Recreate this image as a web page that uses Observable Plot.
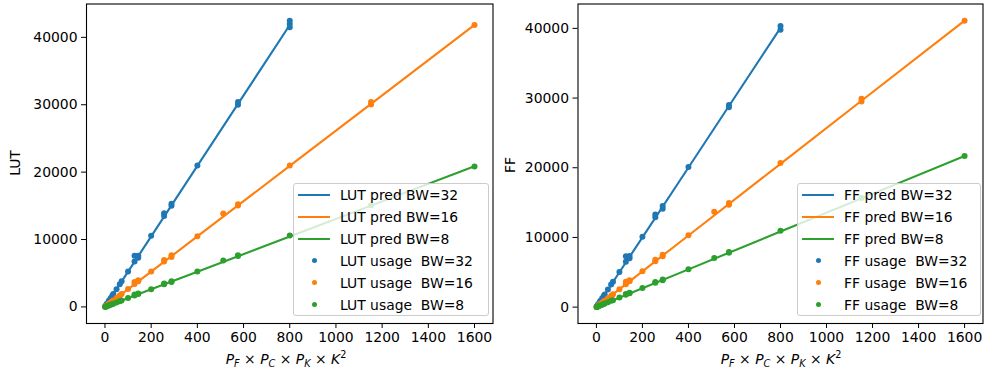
<!DOCTYPE html>
<html>
<head>
<meta charset="utf-8">
<script src="https://cdn.jsdelivr.net/npm/d3@7"></script>
<script src="https://cdn.jsdelivr.net/npm/@observablehq/plot@0.6"></script>
<style>
  html, body { margin: 0; padding: 0; background: #fff; }
  #fig { position: relative; width: 986px; height: 376px; font-family: "DejaVu Sans", sans-serif; color: #000; }
  #fig svg { position: absolute; top: 0; overflow: visible; }
  .ylab { position: absolute; font-size: 13.9px; transform: translate(-50%, -50%) rotate(-90deg); white-space: nowrap; }
  .xlab { position: absolute; font-size: 13.9px; transform: translateX(-50%); white-space: nowrap; }
  .xlab i { font-style: italic; }
  .xlab sub { font-size: 9.7px; vertical-align: -3px; font-style: italic; }
  .xlab sup { font-size: 9.7px; vertical-align: 6px; }
  .legend { position: absolute; border: 1px solid #cccccc; border-radius: 3px; background: rgba(255,255,255,0.8); box-sizing: border-box; font-size: 13.9px; }
  .legend .row { position: absolute; left: 0; height: 22px; line-height: 22px; white-space: pre; }
  .legend .row .txt { position: absolute; left: 46px; top: -11px; }
  .legend .row .ln { position: absolute; left: 4px; top: -1px; width: 32px; height: 2px; }
  .legend .row .mk { position: absolute; left: 18px; top: -2.5px; width: 5px; height: 5px; border-radius: 50%; }
</style>
</head>
<body>
<div id="fig"></div>
<script>
// Colours for the three bit widths
const colors = { 32: "#1f77b4", 16: "#ff7f0e", 8: "#2ca02c" };
const bitWidths = [32, 16, 8];

// x = P_F × P_C × P_K × K²
const xTicks = [0, 200, 400, 600, 800, 1000, 1200, 1400, 1600];
const yTicks = [0, 10000, 20000, 30000, 40000];

// ---- LUT: measured usage [x, LUT] ----
const lutUsage32 = [[1, 60], [2, 110], [4, 210], [8, 420], [9, 480], [16, 840], [18, 950], [25, 1320], [32, 1680],
  [36, 1900], [50, 2620], [64, 3350], [72, 3800], [100, 5250], [128, 6750], [128, 7600], [144, 7600], [144, 7300],
  [200, 10550], [256, 13500], [256, 13900], [288, 15000], [288, 15300], [400, 21000], [576, 30000], [576, 30400],
  [800, 41500], [800, 42000], [800, 42450]];
const lutUsage16 = [[1, 30], [2, 55], [4, 105], [8, 210], [9, 240], [16, 420], [18, 480], [25, 660], [32, 840],
  [36, 950], [50, 1320], [64, 1700], [72, 1900], [100, 2650], [128, 3400], [128, 3700], [144, 3800], [144, 3950],
  [200, 5250], [256, 6750], [256, 6950], [288, 7400], [288, 7650], [400, 10500], [512, 13850], [576, 15050],
  [576, 15250], [800, 21000], [1152, 30050], [1152, 30400], [1600, 41850]];
const lutUsage8 = [[1, 15], [2, 30], [4, 55], [8, 105], [9, 120], [16, 210], [18, 240], [25, 330], [32, 420],
  [36, 480], [50, 660], [64, 850], [72, 950], [100, 1320], [128, 1700], [128, 1850], [144, 1900], [144, 1980],
  [200, 2620], [256, 3380], [256, 3480], [288, 3700], [288, 3820], [400, 5250], [512, 6900], [576, 7550],
  [576, 7650], [800, 10600], [1152, 15100], [1600, 20850]];

// ---- LUT: model prediction [x, LUT] ----
const lutPred32 = [[0, 0], [100, 5230], [200, 10460], [400, 20920], [576, 30120], [800, 41840]];
const lutPred16 = [[0, 0], [200, 5230], [400, 10460], [800, 20920], [1152, 30120], [1600, 41840]];
const lutPred8 = [[0, 0], [200, 2610], [400, 5220], [800, 10440], [1152, 15030], [1600, 20870]];

// ---- FF: measured usage [x, FF] ----
const ffUsage32 = [[1, 55], [2, 105], [4, 205], [8, 400], [9, 460], [16, 800], [18, 910], [25, 1260], [32, 1600],
  [36, 1820], [50, 2520], [64, 3250], [72, 3650], [100, 5050], [128, 6500], [128, 7300], [144, 7350], [144, 7000],
  [200, 10100], [256, 12900], [256, 13300], [288, 14100], [288, 14500], [400, 20100], [576, 28700], [576, 29000],
  [800, 39800], [800, 40350]];
const ffUsage16 = [[1, 30], [2, 55], [4, 105], [8, 205], [9, 235], [16, 410], [18, 465], [25, 645], [32, 820],
  [36, 930], [50, 1290], [64, 1650], [72, 1850], [100, 2580], [128, 3300], [128, 3650], [144, 3700], [144, 3850],
  [200, 5150], [256, 6600], [256, 6800], [288, 7300], [288, 7500], [400, 10300], [512, 13700], [576, 14700],
  [576, 14950], [800, 20700], [1152, 29500], [1152, 29900], [1600, 41100]];
const ffUsage8 = [[1, 18], [2, 32], [4, 60], [8, 115], [9, 130], [16, 225], [18, 255], [25, 350], [32, 450],
  [36, 510], [50, 700], [64, 900], [72, 1000], [100, 1380], [128, 1780], [128, 1900], [144, 1980], [144, 2050],
  [200, 2750], [256, 3500], [256, 3600], [288, 3850], [288, 3950], [400, 5450], [512, 7050], [576, 7800],
  [576, 7900], [800, 10950], [1152, 15650], [1600, 21700]];

// ---- FF: model prediction [x, FF] ----
const ffPred32 = [[0, 0], [100, 5010], [200, 10020], [400, 20040], [576, 28860], [800, 40080]];
const ffPred16 = [[0, 0], [200, 5140], [400, 10280], [800, 20560], [1152, 29610], [1600, 41120]];
const ffPred8 = [[0, 0], [200, 2710], [400, 5420], [800, 10840], [1152, 15610], [1600, 21680]];

function panel({ usage, pred, yDomain, width, marginLeft, marginRight }) {
  const marks = [Plot.frame({ stroke: "#000", strokeWidth: 1.1 })];
  bitWidths.forEach((bw, i) => {
    marks.push(Plot.line(pred[i], { x: d => d[0], y: d => d[1], stroke: colors[bw], strokeWidth: 2.1 }));
  });
  bitWidths.forEach((bw, i) => {
    marks.push(Plot.dot(usage[i], { x: d => d[0], y: d => d[1], fill: colors[bw], r: 3 }));
  });
  return Plot.plot({
    width, height: 376,
    marginLeft, marginRight, marginTop: 3.5, marginBottom: 53,
    style: { fontFamily: "DejaVu Sans", fontSize: "13.9px", color: "#000", background: "transparent", overflow: "visible" },
    x: { domain: [-80, 1680], ticks: xTicks, tickSize: 5, tickPadding: 4, tickFormat: d => String(d), label: null },
    y: { domain: yDomain, ticks: yTicks, tickSize: 5, tickPadding: 4, tickFormat: d => String(d), label: null },
    marks
  });
}

const fig = document.getElementById("fig");

const left = panel({
  usage: [lutUsage32, lutUsage16, lutUsage8],
  pred: [lutPred32, lutPred16, lutPred8],
  yDomain: [-2460, 44950], width: 493, marginLeft: 86, marginRight: 0.5
});
left.style.left = "0px";
fig.appendChild(left);

const right = panel({
  usage: [ffUsage32, ffUsage16, ffUsage8],
  pred: [ffPred32, ffPred16, ffPred8],
  yDomain: [-2350, 43500], width: 493, marginLeft: 84.5, marginRight: 3.5
});
right.style.left = "493px";
fig.appendChild(right);

function addDiv(cls, html, styles) {
  const el = document.createElement("div");
  el.className = cls;
  el.innerHTML = html;
  Object.assign(el.style, styles);
  fig.appendChild(el);
  return el;
}

const xLabel = "<i>P</i><sub>F</sub> × <i>P</i><sub>C</sub> × <i>P</i><sub>K</sub> × <i>K</i><sup>2</sup>";
addDiv("xlab", xLabel, { left: "286px", top: "349px" });
addDiv("xlab", xLabel, { left: "781px", top: "349px" });
addDiv("ylab", "LUT", { left: "15px", top: "163px" });
addDiv("ylab", "FF", { left: "510px", top: "165px" });

function legend(prefix, box) {
  const el = addDiv("legend", "", box);
  const rows = [];
  bitWidths.forEach(bw => rows.push({ kind: "line", bw, text: `${prefix} pred BW=${bw}` }));
  bitWidths.forEach(bw => rows.push({ kind: "dot", bw, text: `${prefix} usage  BW=${bw}` }));
  rows.forEach((r, i) => {
    const row = document.createElement("div");
    row.className = "row";
    row.style.top = (10.5 + i * 22) + "px";
    const h = document.createElement("div");
    h.className = r.kind === "line" ? "ln" : "mk";
    h.style.background = colors[r.bw];
    const t = document.createElement("div");
    t.className = "txt";
    t.textContent = r.text;
    row.appendChild(h);
    row.appendChild(t);
    el.appendChild(row);
  });
}
legend("LUT", { left: "293px", top: "183px", width: "196px", height: "133px" });
legend("FF", { left: "797px", top: "183px", width: "184px", height: "133px" });
</script>
</body>
</html>
